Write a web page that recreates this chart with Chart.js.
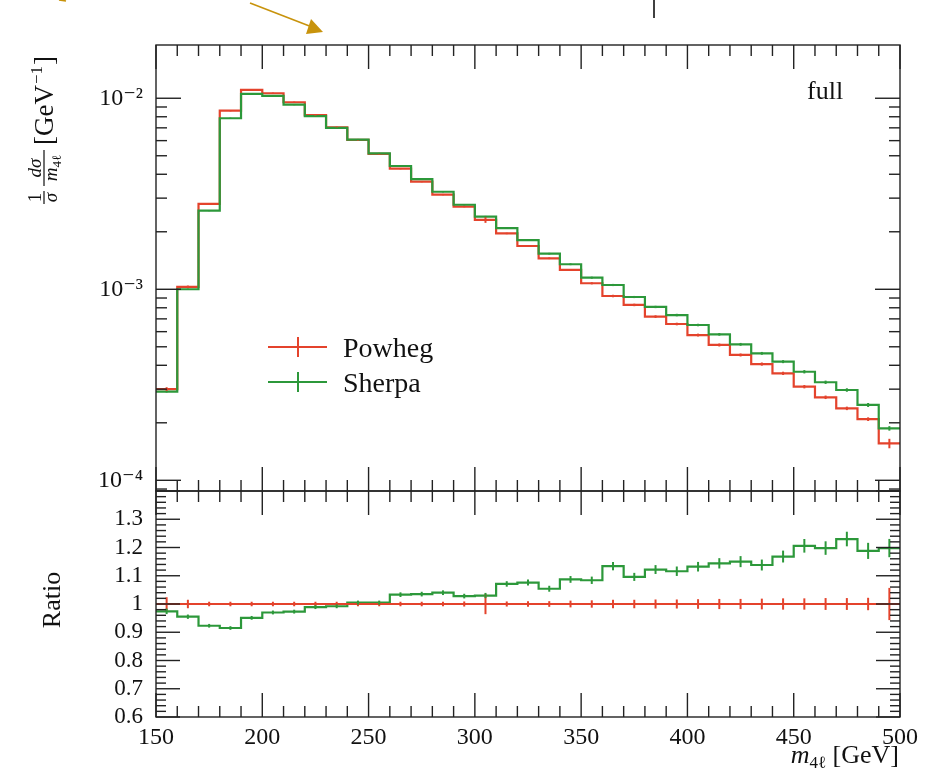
<!DOCTYPE html>
<html>
<head>
<meta charset="utf-8">
<title>m4l distribution</title>
<script src="https://cdn.jsdelivr.net/npm/chart.js@4.4.1/dist/chart.umd.min.js"></script>
<style>
  html, body { margin: 0; padding: 0; background: #fff; }
  canvas { display: block; }
</style>
</head>
<body>
<canvas id="myChart" width="930" height="775"></canvas>
<script>
// bin edges in GeV (10 GeV bins)
var binEdges = [150, 160, 170, 180, 190, 200, 210, 220, 230, 240, 250, 260, 270, 280, 290,
  300, 310, 320, 330, 340, 350, 360, 370, 380, 390, 400, 410, 420, 430, 440, 450,
  460, 470, 480, 490, 500];

// normalised distributions, 1/sigma dsigma/dm4l [1/GeV]
var powheg = [3.0e-4, 1.03e-3, 2.80e-3, 8.61e-3, 1.105e-2, 1.062e-2, 9.53e-3, 8.15e-3, 7.05e-3,
  6.05e-3, 5.11e-3, 4.28e-3, 3.66e-3, 3.13e-3, 2.71e-3, 2.31e-3, 1.96e-3, 1.685e-3, 1.453e-3,
  1.262e-3, 1.075e-3, 9.22e-4, 8.28e-4, 7.19e-4, 6.58e-4, 5.76e-4, 5.11e-4, 4.53e-4, 4.06e-4,
  3.63e-4, 3.09e-4, 2.72e-4, 2.38e-4, 2.09e-4, 1.56e-4];
var sherpa = [2.91e-4, 1.0e-3, 2.58e-3, 7.86e-3, 1.053e-2, 1.028e-2, 9.26e-3, 8.06e-3, 7.0e-3,
  6.08e-3, 5.14e-3, 4.42e-3, 3.77e-3, 3.24e-3, 2.77e-3, 2.40e-3, 2.09e-3, 1.81e-3, 1.536e-3,
  1.352e-3, 1.15e-3, 1.053e-3, 9.11e-4, 8.08e-4, 7.33e-4, 6.50e-4, 5.81e-4, 5.15e-4, 4.62e-4,
  4.18e-4, 3.70e-4, 3.26e-4, 2.97e-4, 2.48e-4, 1.87e-4];

// ratio to Powheg
var powhegRatio = [1, 1, 1, 1, 1, 1, 1, 1, 1, 1, 1, 1, 1, 1, 1, 1, 1, 1, 1, 1, 1, 1, 1, 1, 1,
  1, 1, 1, 1, 1, 1, 1, 1, 1, 1];
var sherpaRatio = [0.974, 0.955, 0.923, 0.915, 0.951, 0.970, 0.973, 0.989, 0.992, 1.005, 1.005,
  1.033, 1.035, 1.040, 1.028, 1.030, 1.071, 1.076, 1.054, 1.087, 1.084, 1.134, 1.096, 1.122,
  1.116, 1.132, 1.144, 1.150, 1.138, 1.168, 1.206, 1.198, 1.230, 1.188, 1.198];

// relative statistical uncertainties
var powhegErr = [0.024, 0.015, 0.008, 0.008, 0.008, 0.008, 0.008, 0.008, 0.008, 0.008, 0.008,
  0.008, 0.008, 0.008, 0.009, 0.036, 0.009, 0.010, 0.010, 0.012, 0.013, 0.015, 0.015, 0.016,
  0.016, 0.017, 0.018, 0.018, 0.019, 0.020, 0.020, 0.021, 0.021, 0.022, 0.057];
var sherpaErr = [0.010, 0.008, 0.007, 0.007, 0.007, 0.007, 0.007, 0.007, 0.007, 0.007, 0.007,
  0.008, 0.008, 0.008, 0.008, 0.009, 0.009, 0.010, 0.010, 0.011, 0.012, 0.013, 0.013, 0.014,
  0.015, 0.015, 0.016, 0.017, 0.017, 0.018, 0.020, 0.020, 0.021, 0.024, 0.027];

// tick labels
var xTicks = [150, 200, 250, 300, 350, 400, 450, 500];
var logTicks = [1e-4, 1e-3, 1e-2];
var logTickLabels = ['10\u207B\u2074', '10\u207B\u00B3', '10\u207B\u00B2'];
var ratioTicks = [0.6, 0.7, 0.8, 0.9, 1, 1.1, 1.2, 1.3];
var ratioTickLabels = ['0.6', '0.7', '0.8', '0.9', '1', '1.1', '1.2', '1.3'];

var RED = '#e4432c';
var GREEN = '#2c983a';
var INK = '#111';
var SERIF = "'Liberation Serif', 'DejaVu Serif', serif";

// histogram as step line: one point per left edge, plus the closing edge
function steps(values) {
  return binEdges.map(function (e, i) {
    return { x: e, y: values[Math.min(i, values.length - 1)] };
  });
}

function line(ctx, x1, y1, x2, y2) {
  ctx.beginPath();
  ctx.moveTo(x1, y1);
  ctx.lineTo(x2, y2);
  ctx.stroke();
}

var panelFrame = {
  id: 'panelFrame',
  afterDatasetsDraw: function (chart) {
    var ctx = chart.ctx, xs = chart.scales.x;
    chart.data.datasets.forEach(function (ds) {
      var s = chart.scales[ds.yAxisID];
      ctx.save();
      ctx.strokeStyle = ds.borderColor;
      ctx.lineWidth = 2;
      ds.errors.forEach(function (e, i) {
        var v = ds.data[i].y;
        var px = xs.getPixelForValue((binEdges[i] + binEdges[i + 1]) / 2);
        line(ctx, px, s.getPixelForValue(v * (1 - e)), px, s.getPixelForValue(v * (1 + e)));
      });
      ctx.restore();
    });
  },
  afterDraw: function (chart) {
    var ctx = chart.ctx, xs = chart.scales.x;
    var ys = chart.scales.y, rs = chart.scales.ratio;
    var left = xs.left, right = xs.right;
    var k, py, len;

    ctx.save();
    ctx.strokeStyle = '#222';
    ctx.lineWidth = 1.4;
    [ys, rs].forEach(function (s) {
      ctx.strokeRect(left, s.top, right - left, s.bottom - s.top);
      binEdges.forEach(function (e) {
        var px = xs.getPixelForValue(e);
        var l = e % 50 === 0 ? 24 : 11;
        line(ctx, px, s.top, px, s.top + l);
        line(ctx, px, s.bottom, px, s.bottom - l);
      });
    });
    // decade and sub-decade marks on the log panel
    for (var p = -5; p <= -1; p++) {
      for (var m = 1; m <= 9; m++) {
        var v = m * Math.pow(10, p);
        if (v < ys.min || v > ys.max) continue;
        py = ys.getPixelForValue(v);
        len = m === 1 ? 25 : 11;
        line(ctx, left, py, left + len, py);
        line(ctx, right, py, right - len, py);
      }
    }
    // ratio panel marks every 0.02
    for (k = 30; k <= 70; k++) {
      py = rs.getPixelForValue(k / 50);
      len = k % 5 === 0 ? 24 : 10;
      line(ctx, left, py, left + len, py);
      line(ctx, right, py, right - len, py);
    }
    ctx.restore();

    ctx.save();
    ctx.fillStyle = INK;
    ctx.textBaseline = 'alphabetic';

    // process label
    ctx.font = '26px ' + SERIF;
    ctx.textAlign = 'left';
    ctx.fillText('full', 807, 99);

    // legend
    [{ ds: 0, y: 347 }, { ds: 1, y: 382 }].forEach(function (row) {
      var ds = chart.data.datasets[row.ds];
      ctx.strokeStyle = ds.borderColor;
      ctx.lineWidth = 2;
      line(ctx, 268, row.y, 327, row.y);
      line(ctx, 298, row.y - 10, 298, row.y + 10);
      ctx.font = '28px ' + SERIF;
      ctx.fillText(ds.label, 343, row.y + 10);
    });

    // x axis title: m_{4l} [GeV]
    var mainF = '26px ' + SERIF, itF = 'italic 26px ' + SERIF, subF = '17px ' + SERIF;
    ctx.font = itF; var wm = ctx.measureText('m').width;
    ctx.font = subF; var ws = ctx.measureText('4\u2113').width;
    ctx.font = mainF; var wg = ctx.measureText(' [GeV]').width;
    var x0 = 899 - wm - ws - wg;
    ctx.font = itF; ctx.fillText('m', x0, 763);
    ctx.font = subF; ctx.fillText('4\u2113', x0 + wm, 768);
    ctx.font = mainF; ctx.fillText(' [GeV]', x0 + wm + ws, 763);

    // ratio axis title
    ctx.save();
    ctx.translate(60, 600);
    ctx.rotate(-Math.PI / 2);
    ctx.textAlign = 'center';
    ctx.font = '26px ' + SERIF;
    ctx.fillText('Ratio', 0, 0);
    ctx.restore();

    // top axis title: 1/sigma dsigma/dm4l [GeV^-1], written upwards
    ctx.save();
    ctx.translate(44, 204);
    ctx.rotate(-Math.PI / 2);
    ctx.textAlign = 'center';
    ctx.font = '19px ' + SERIF;
    ctx.fillText('1', 6.5, -3);
    ctx.font = 'italic 19px ' + SERIF;
    ctx.fillText('\u03C3', 6.5, 13);
    ctx.fillRect(0, -0.6, 13, 1.2);
    ctx.fillText('d\u03C3', 36, -3);
    ctx.fillRect(18, -0.6, 36, 1.2);
    ctx.font = 'italic 19px ' + SERIF;
    var dm = ctx.measureText('m').width;
    ctx.font = '13px ' + SERIF;
    var ds4 = ctx.measureText('4\u2113').width;
    var dx = 36 - (dm + ds4) / 2;
    ctx.textAlign = 'left';
    ctx.font = 'italic 19px ' + SERIF;
    ctx.fillText('m', dx, 13);
    ctx.font = '13px ' + SERIF;
    ctx.fillText('4\u2113', dx + dm, 17);
    ctx.font = '27px ' + SERIF;
    ctx.fillText('[GeV', 59, 8.5);
    var wb = ctx.measureText('[GeV').width;
    ctx.font = '17px ' + SERIF;
    ctx.fillText('\u22121', 59 + wb + 1, -2);
    var we = ctx.measureText('\u22121').width;
    ctx.font = '27px ' + SERIF;
    ctx.fillText(']', 59 + wb + we + 2, 8.5);
    ctx.restore();

    // pointer arrow and divider along the top edge
    ctx.strokeStyle = '#c8930c';
    ctx.fillStyle = '#c8930c';
    ctx.lineWidth = 1.6;
    line(ctx, 250, 3, 312, 27);
    line(ctx, 59, 0, 66, 1);
    ctx.beginPath();
    ctx.moveTo(323, 32);
    ctx.lineTo(306, 34);
    ctx.lineTo(311, 19);
    ctx.closePath();
    ctx.fill();
    ctx.strokeStyle = '#000';
    ctx.lineWidth = 1.5;
    line(ctx, 654, 0, 654, 18);
    ctx.restore();
  }
};

var ctx = document.getElementById('myChart').getContext('2d');
var myChart = new Chart(ctx, {
  type: 'line',
  data: {
    datasets: [{
      label: 'Powheg',
      data: steps(powheg),
      errors: powhegErr,
      yAxisID: 'y',
      borderColor: RED,
      order: 1
    }, {
      label: 'Sherpa',
      data: steps(sherpa),
      errors: sherpaErr,
      yAxisID: 'y',
      borderColor: GREEN,
      order: 0
    }, {
      label: 'Powheg',
      data: steps(powhegRatio),
      errors: powhegErr,
      yAxisID: 'ratio',
      borderColor: RED,
      order: 0
    }, {
      label: 'Sherpa',
      data: steps(sherpaRatio),
      errors: sherpaErr,
      yAxisID: 'ratio',
      borderColor: GREEN,
      order: 1
    }]
  },
  options: {
    responsive: false,
    animation: false,
    layout: { padding: { top: 45, right: 30, left: 0, bottom: 0 } },
    datasets: {
      line: { stepped: true, borderWidth: 2.2, pointRadius: 0, fill: false, tension: 0 }
    },
    plugins: {
      legend: { display: false },
      tooltip: { enabled: false }
    },
    scales: {
      x: {
        type: 'linear',
        min: 150,
        max: 500,
        grid: { display: false, drawTicks: false },
        border: { display: false },
        afterBuildTicks: function (s) { s.ticks = xTicks.map(function (v) { return { value: v }; }); },
        afterFit: function (s) { s.height = 58; },
        ticks: { padding: 6, maxRotation: 0, autoSkip: false, color: INK, font: { family: SERIF, size: 24 } }
      },
      y: {
        type: 'logarithmic',
        position: 'left',
        stack: 'panels',
        stackWeight: 446,
        weight: 1,
        min: 8.79e-5,
        max: 1.9e-2,
        grid: { display: false, drawTicks: false },
        border: { display: false },
        afterBuildTicks: function (s) { s.ticks = logTicks.map(function (v) { return { value: v }; }); },
        afterFit: function (s) { s.width = 156; },
        ticks: {
          padding: 13,
          autoSkip: false,
          color: INK,
          font: { family: SERIF, size: 24 },
          callback: function (v, i) { return logTickLabels[i]; }
        }
      },
      ratio: {
        type: 'linear',
        position: 'left',
        stack: 'panels',
        stackWeight: 226,
        weight: 0,
        min: 0.6,
        max: 1.4,
        grid: { display: false, drawTicks: false },
        border: { display: false },
        afterBuildTicks: function (s) { s.ticks = ratioTicks.map(function (v) { return { value: v }; }); },
        afterFit: function (s) { s.width = 156; },
        ticks: {
          padding: 13,
          autoSkip: false,
          color: INK,
          font: { family: SERIF, size: 23 },
          callback: function (v, i) { return ratioTickLabels[i]; }
        }
      }
    }
  },
  plugins: [panelFrame]
});
</script>
</body>
</html>
